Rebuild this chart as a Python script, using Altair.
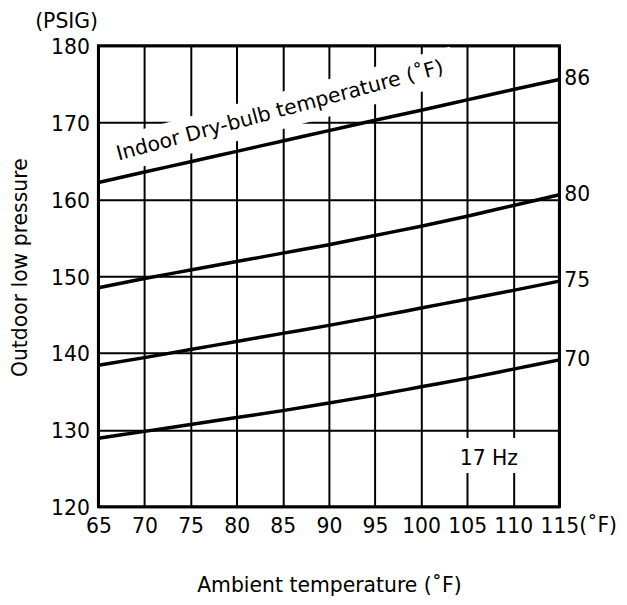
import altair as alt
import pandas as pd

# ---- data ----
ambient = [65, 70, 75, 80, 85, 90, 95, 100, 105, 110, 115]
p86 = [162.2, 163.55, 164.9, 166.25, 167.6, 168.95, 170.3, 171.6, 172.95, 174.3, 175.6]
p80 = [148.5, 149.7, 150.8, 151.9, 153.0, 154.1, 155.3, 156.5, 157.8, 159.2, 160.6]
p75 = [138.4, 139.4, 140.45, 141.5, 142.55, 143.6, 144.7, 145.85, 147.0, 148.15, 149.35]
p70 = [128.9, 129.8, 130.7, 131.6, 132.5, 133.5, 134.5, 135.6, 136.7, 137.9, 139.1]
indoor_labels = ["86", "80", "75", "70"]
series = [p86, p80, p75, p70]

x_ticks = [65, 70, 75, 80, 85, 90, 95, 100, 105, 110, 115]
y_ticks = [120, 130, 140, 150, 160, 170, 180]

curve_label = ["Indoor Dry-bulb temperature (˚F)"]
curve_label_x = [84.7]
curve_label_y = [171.5]
hz_label = ["17 Hz"]
hz_x = [107.35]
hz_y = [126.2]
hz_box_y = [126.66]

# ---- tables ----
rows = []
for lab, ser in zip(indoor_labels, series):
    for a, p in zip(ambient, ser):
        rows.append({"ambient": a, "pressure": p, "indoor": lab})
df = pd.DataFrame(rows)
ends = pd.DataFrame({"ambient": [ambient[-1]] * len(series),
                     "pressure": [s[-1] for s in series],
                     "indoor": indoor_labels})
curve_df = pd.DataFrame({"ambient": curve_label_x, "pressure": curve_label_y, "txt": curve_label})
hz_df = pd.DataFrame({"ambient": hz_x, "pressure": hz_y, "txt": hz_label})
hz_box_df = pd.DataFrame({"ambient": hz_x, "pressure": hz_box_y})
psig_df = pd.DataFrame({"ambient": [x_ticks[0]], "pressure": [y_ticks[-1]], "txt": ["(PSIG)"]})
unit_df = pd.DataFrame({"ambient": [x_ticks[-1]], "pressure": [y_ticks[0]], "txt": ["(˚F)"]})

FS = 20.5
x_scale = alt.Scale(domain=[65, 115], nice=False, zero=False)
y_scale = alt.Scale(domain=[120, 180], nice=False, zero=False)
x_axis = alt.Axis(values=x_ticks, title="Ambient temperature (˚F)", grid=True, ticks=False,
                  domain=False, labelPadding=10, labelFontSize=FS, titleFontSize=FS,
                  titleFontWeight="normal", titleY=85, titleBaseline="alphabetic",
                  labelFlush=False, labelOverlap=False)
y_axis = alt.Axis(values=y_ticks, title="Outdoor low pressure", grid=True, ticks=False,
                  domain=False, labelPadding=9, labelFontSize=FS, titleFontSize=FS,
                  titleFontWeight="normal", titleAngle=270, titleX=-72, titleY=223,
                  titleAlign="center", titleBaseline="alphabetic", labelOffset=2,
                  labelFlush=False, labelOverlap=False)
X = alt.X("ambient:Q", scale=x_scale, axis=x_axis)
Y = alt.Y("pressure:Q", scale=y_scale, axis=y_axis)

curve_box = alt.Chart(curve_df).mark_point(
    shape="M-1,-0.1L1,-0.1L1,0.1L-1,0.1Z", size=132000, angle=345,
    filled=True, color="white", opacity=1, strokeWidth=0
).encode(x=X, y=Y)

hz_box = alt.Chart(hz_box_df).mark_point(
    shape="M-1,-0.467L1,-0.467L1,0.467L-1,0.467Z", size=5625,
    filled=True, color="white", opacity=1, strokeWidth=0
).encode(x=X, y=Y)

lines = alt.Chart(df).mark_line(color="black", strokeWidth=3.5, interpolate="monotone").encode(
    x=X, y=Y, detail="indoor:N")

end_text = alt.Chart(ends).mark_text(align="left", baseline="middle", dx=5, fontSize=FS,
                                     color="black").encode(x=X, y=Y, text="indoor:N")

curve_text = alt.Chart(curve_df).mark_text(angle=345, align="center", baseline="middle",
                                           fontSize=FS, color="black").encode(x=X, y=Y, text="txt:N")

hz_text = alt.Chart(hz_df).mark_text(align="center", baseline="middle", fontSize=FS,
                                     color="black").encode(x=X, y=Y, text="txt:N")

psig_text = alt.Chart(psig_df).mark_text(align="center", baseline="middle", dx=-32, dy=-24,
                                         fontSize=FS, color="black").encode(x=X, y=Y, text="txt:N")

unit_text = alt.Chart(unit_df).mark_text(align="left", baseline="top", dx=20, dy=10,
                                         fontSize=FS, color="black").encode(x=X, y=Y, text="txt:N")

chart = alt.layer(curve_box, hz_box, lines, end_text, curve_text, hz_text, psig_text, unit_text).properties(
    width=464, height=464,
    autosize=alt.AutoSizeParams(type="none"),
    padding={"left": 91, "top": 36, "right": 60, "bottom": 89},
).configure(font="DejaVu Sans").configure_view(
    stroke="black", strokeWidth=3
).configure_axis(
    gridColor="black", gridWidth=2, gridOpacity=1, labelColor="black", titleColor="black",
    labelFont="DejaVu Sans", titleFont="DejaVu Sans"
)

chart.save("out.html", embed_options={"renderer": "svg", "actions": False})
